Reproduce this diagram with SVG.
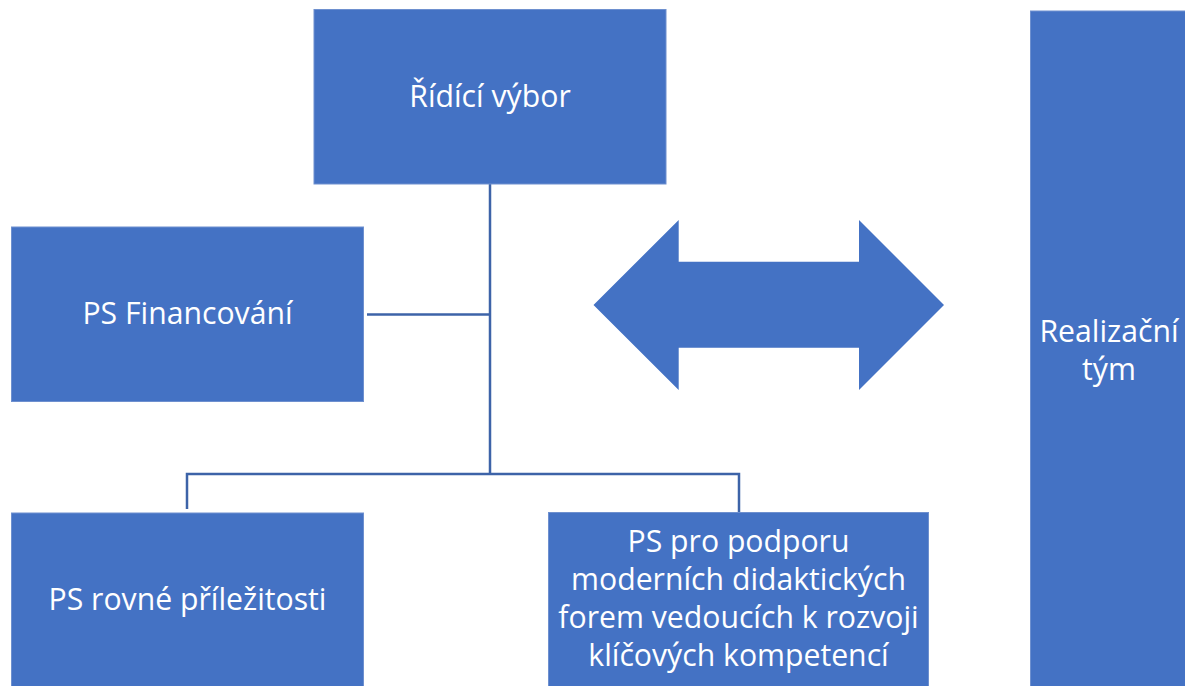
<svg xmlns="http://www.w3.org/2000/svg" width="1185" height="686" viewBox="0 0 1185 686">
<style>
.box{fill:#4472C4;stroke:#6E90CF;stroke-width:1}
.lbl{fill:#FFFFFF;font-family:"Open Sans","Noto Sans","DejaVu Sans",sans-serif;font-size:30.2px;text-anchor:middle}
.conn{fill:none;stroke:#3D63A8;stroke-width:2.5}
</style>
<rect width="1185" height="686" fill="#FFFFFF"/>
<g id="connectors">
<path class="conn" d="M490,184 V474"/>
<path class="conn" d="M367,314.5 H490"/>
<path class="conn" d="M187,509 V474 H739 V512"/>
</g>
<g id="ridici-vybor">
<rect class="box" x="314" y="9.5" width="352" height="174.5"/>
<text class="lbl" x="490" y="107">Řídící výbor</text>
</g>
<g id="ps-financovani">
<rect class="box" x="11.5" y="227" width="352" height="174.5"/>
<text class="lbl" x="187.5" y="324">PS Financování</text>
</g>
<g id="ps-rovne">
<rect class="box" x="11.5" y="513" width="352" height="180"/>
<text class="lbl" x="187.5" y="610">PS rovné příležitosti</text>
</g>
<g id="ps-podpora">
<rect class="box" x="548.5" y="512.5" width="380" height="180"/>
<text class="lbl" x="738.5" y="552">PS pro podporu</text>
<text class="lbl" x="738.5" y="590">moderních didaktických</text>
<text class="lbl" x="738.5" y="628">forem vedoucích k rozvoji</text>
<text class="lbl" x="738.5" y="666">klíčových kompetencí</text>
</g>
<g id="double-arrow">
<polygon fill="#4472C4" points="593.5,305 678.7,220 678.7,261.7 859,261.7 859,220 944,305 859,390 859,347.7 678.7,347.7 678.7,390"/>
</g>
<g id="realizacni-tym">
<rect class="box" x="1030.5" y="11" width="170" height="690"/>
<text class="lbl" x="1109" y="342">Realizační</text>
<text class="lbl" x="1109" y="380">tým</text>
</g>
</svg>
